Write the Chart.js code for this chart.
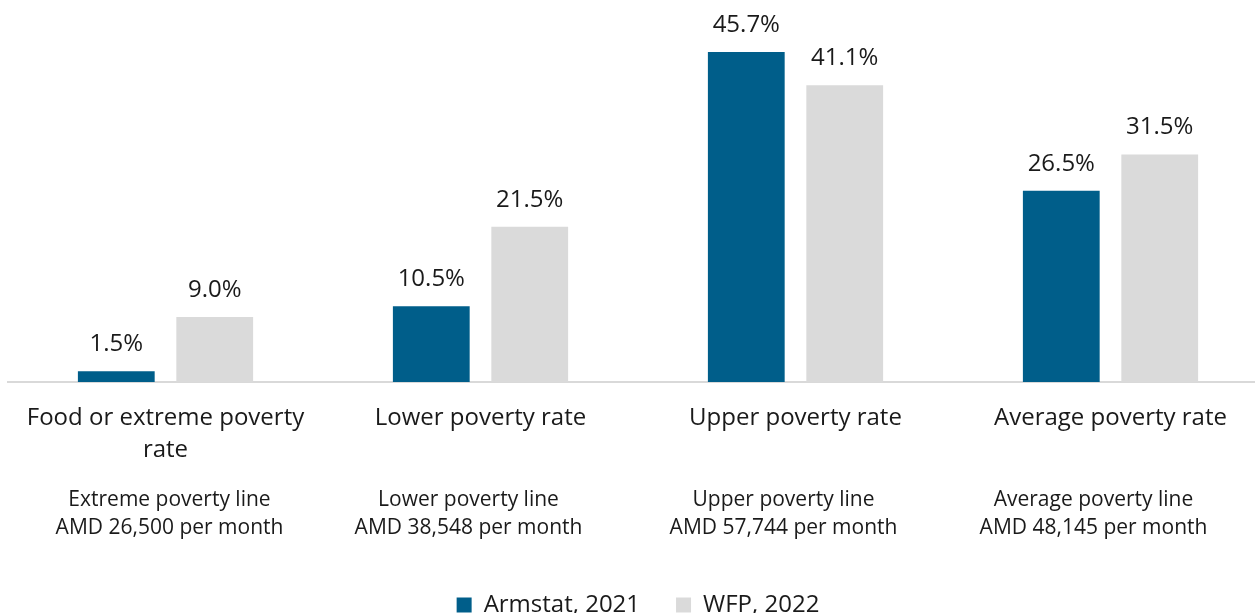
<!DOCTYPE html>
<html>
<head>
<meta charset="utf-8">
<script src="https://cdn.jsdelivr.net/npm/chart.js@4"></script>
<style>
  html, body { margin: 0; padding: 0; background: #fff; overflow: hidden; }
  #wrap { width: 1255px; height: 613px; overflow: hidden; }
  #box { width: 1270px; height: 627px; }
</style>
</head>
<body>
<div id="wrap"><div id="box"><canvas id="myChart"></canvas></div></div>
<script>
const categories = [['Food or extreme poverty', 'rate'], 'Lower poverty rate', 'Upper poverty rate', 'Average poverty rate'];
const povertyLines = [
    ['Extreme poverty line', 'AMD 26,500 per month'],
    ['Lower poverty line', 'AMD 38,548 per month'],
    ['Upper poverty line', 'AMD 57,744 per month'],
    ['Average poverty line', 'AMD 48,145 per month']
];
const armstat2021 = [1.5, 10.5, 45.7, 26.5];
const wfp2022 = [9.0, 21.5, 41.1, 31.5];

const FONT = "'Open Sans', 'Noto Sans', sans-serif";
// the note boxes sit a little off the category centres in the original
const noteShift = [4, -12, -12, -17];

// values above the bars
const barLabels = {
    id: 'barLabels',
    afterDatasetsDraw(chart) {
        const ctx = chart.ctx;
        ctx.save();
        ctx.font = '24px ' + FONT;
        ctx.fillStyle = '#1a1a1a';
        ctx.textAlign = 'center';
        ctx.textBaseline = 'middle';
        chart.data.datasets.forEach((ds, i) => {
            chart.getDatasetMeta(i).data.forEach((bar, j) => {
                ctx.fillText(ds.data[j].toFixed(1) + '%', bar.x, bar.y - 27);
            });
        });
        ctx.restore();
    }
};

// poverty line notes under the category names
const lineNotes = {
    id: 'lineNotes',
    afterDraw(chart) {
        const ctx = chart.ctx;
        const x = chart.scales.x;
        ctx.save();
        ctx.font = '21px ' + FONT;
        ctx.fillStyle = '#1a1a1a';
        ctx.textAlign = 'center';
        ctx.textBaseline = 'middle';
        povertyLines.forEach((lines, i) => {
            const px = x.getPixelForValue(i) + noteShift[i];
            lines.forEach((t, k) => ctx.fillText(t, px, x.top + 118 + k * 28));
        });
        ctx.restore();
    }
};

const ctx = document.getElementById('myChart').getContext('2d');
new Chart(ctx, {
    type: 'bar',
    data: {
        labels: categories,
        datasets: [
            { label: 'Armstat, 2021', data: armstat2021, backgroundColor: '#005e8a' },
            { label: 'WFP, 2022', data: wfp2022, backgroundColor: '#dadada' }
        ]
    },
    options: {
        responsive: true,
        maintainAspectRatio: false,
        animation: false,
        layout: { padding: { top: 21, left: 8, right: 2, bottom: 0 } },
        datasets: {
            bar: { categoryPercentage: 0.625, barPercentage: 0.78 }
        },
        scales: {
            x: {
                grid: { display: false, drawTicks: false },
                border: { color: '#d9d9d9', width: 2 },
                ticks: {
                    color: '#1a1a1a',
                    padding: 20,
                    maxRotation: 0,
                    autoSkip: false,
                    font: { family: FONT, size: 24, lineHeight: 1.33 }
                },
                afterFit(scale) { scale.height = 175; }
            },
            y: {
                display: false,
                min: 0,
                max: 50
            }
        },
        plugins: {
            tooltip: { enabled: false },
            legend: {
                position: 'bottom',
                labels: {
                    boxWidth: 15,
                    boxHeight: 15,
                    padding: 36,
                    color: '#1a1a1a',
                    font: { family: FONT, size: 24 }
                }
            }
        }
    },
    plugins: [barLabels, lineNotes]
});
</script>
</body>
</html>
